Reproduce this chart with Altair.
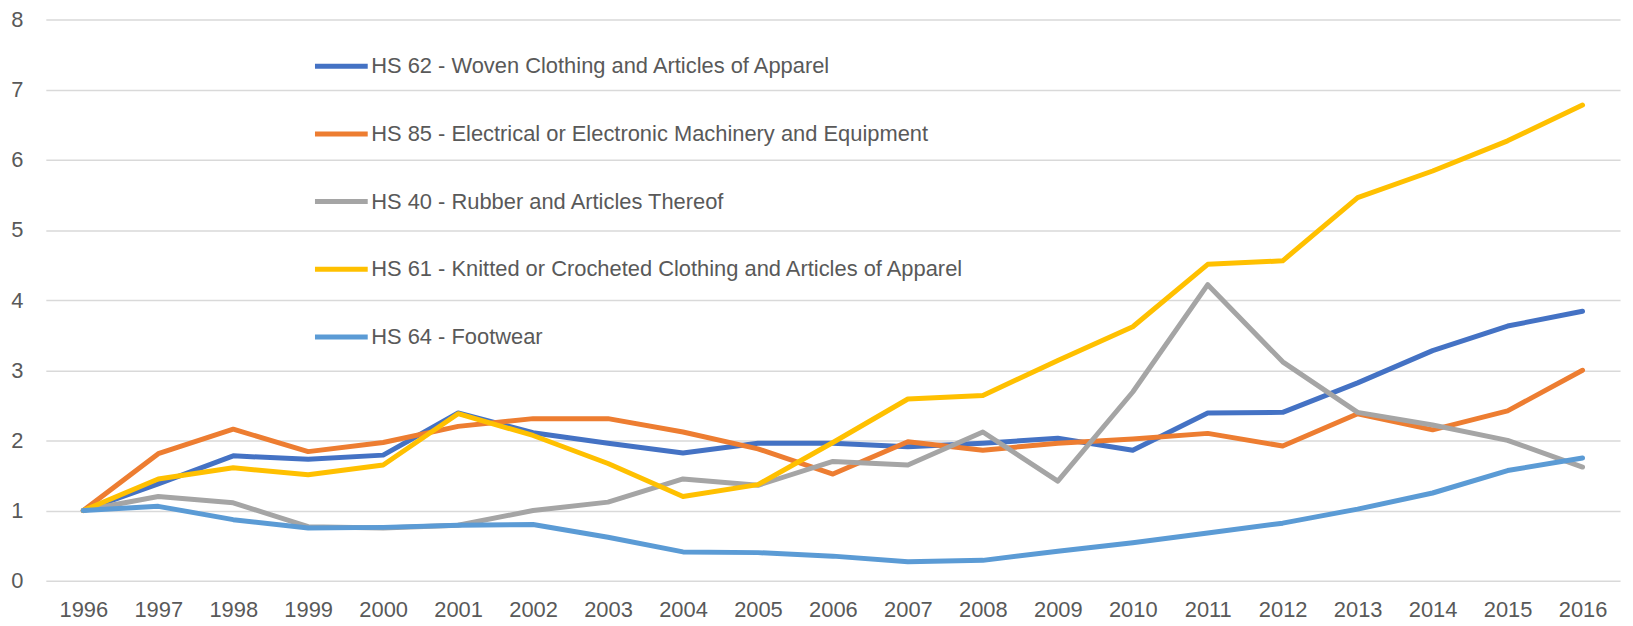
import altair as alt
import pandas as pd

years = [str(y) for y in range(1996, 2017)]

series_names = [
    "HS 62 - Woven Clothing and Articles of Apparel",
    "HS 85 - Electrical or Electronic Machinery and Equipment",
    "HS 40 - Rubber and Articles Thereof",
    "HS 61 - Knitted or Crocheted Clothing and Articles of Apparel",
    "HS 64 - Footwear",
]
series_colors = ["#4472C4", "#ED7D31", "#A5A5A5", "#FFC000", "#5B9BD5"]

hs62 = [1.00, 1.38, 1.78, 1.73, 1.79, 2.39, 2.11, 1.96, 1.82, 1.96, 1.96,
        1.91, 1.96, 2.03, 1.86, 2.39, 2.40, 2.82, 3.28, 3.63, 3.84]
hs85 = [1.00, 1.81, 2.16, 1.84, 1.97, 2.20, 2.31, 2.31, 2.12, 1.88, 1.52,
        1.98, 1.86, 1.96, 2.02, 2.10, 1.92, 2.38, 2.15, 2.42, 3.00]
hs40 = [1.00, 1.20, 1.11, 0.77, 0.75, 0.79, 1.00, 1.12, 1.45, 1.36, 1.70,
        1.65, 2.12, 1.42, 2.69, 4.22, 3.12, 2.40, 2.22, 2.00, 1.62]
hs61 = [1.00, 1.45, 1.61, 1.51, 1.65, 2.38, 2.07, 1.67, 1.20, 1.37, 1.97,
        2.59, 2.64, 3.14, 3.62, 4.51, 4.56, 5.46, 5.84, 6.27, 6.78]
hs64 = [1.00, 1.06, 0.87, 0.75, 0.76, 0.79, 0.80, 0.62, 0.41, 0.40, 0.35,
        0.27, 0.29, 0.42, 0.54, 0.68, 0.82, 1.02, 1.25, 1.57, 1.75]

y_ticks = [0, 1, 2, 3, 4, 5, 6, 7, 8]

all_values = [hs62, hs85, hs40, hs61, hs64]
rows = []
for i, (name, vals) in enumerate(zip(series_names, all_values)):
    for yr, v in zip(years, vals):
        rows.append({"Year": yr, "Series": name, "Value": v, "order": i})
df = pd.DataFrame(rows)

FONT = "Liberation Sans"
TXT = "#595959"

chart = alt.Chart(df).mark_line(
    strokeWidth=5, strokeCap="round", strokeJoin="round"
).encode(
    x=alt.X("Year:O", title=None, sort=years,
            scale=alt.Scale(padding=0.5),
            axis=alt.Axis(labelAngle=0, ticks=False, domain=False, grid=False,
                          labelFont=FONT, labelFontSize=22, labelColor=TXT,
                          labelBaseline="middle", labelPadding=29)),
    y=alt.Y("Value:Q", title=None,
            scale=alt.Scale(domain=[0, 8], nice=False),
            axis=alt.Axis(values=y_ticks, ticks=False, domain=False,
                          gridColor="#D9D9D9", gridWidth=1.5,
                          labelFont=FONT, labelFontSize=22, labelColor=TXT,
                          labelPadding=23)),
    color=alt.Color("Series:N",
                    scale=alt.Scale(domain=series_names, range=series_colors),
                    legend=alt.Legend(
                        title=None, orient="none", legendX=268, legendY=18,
                        direction="vertical", symbolType="stroke",
                        symbolSize=2809, symbolStrokeWidth=5,
                        rowPadding=28, labelOffset=1,
                        labelFont=FONT, labelFontSize=22, labelColor=TXT,
                        labelLimit=1200)),
    order=alt.Order("order:Q"),
).properties(
    width=1582, height=564,
    autosize=alt.AutoSizeParams(type="none"),
    padding={"left": 38, "top": 10, "right": 5, "bottom": 44},
).configure_view(stroke=None)

chart.save("out.html", embed_options={"renderer": "svg", "actions": False})
